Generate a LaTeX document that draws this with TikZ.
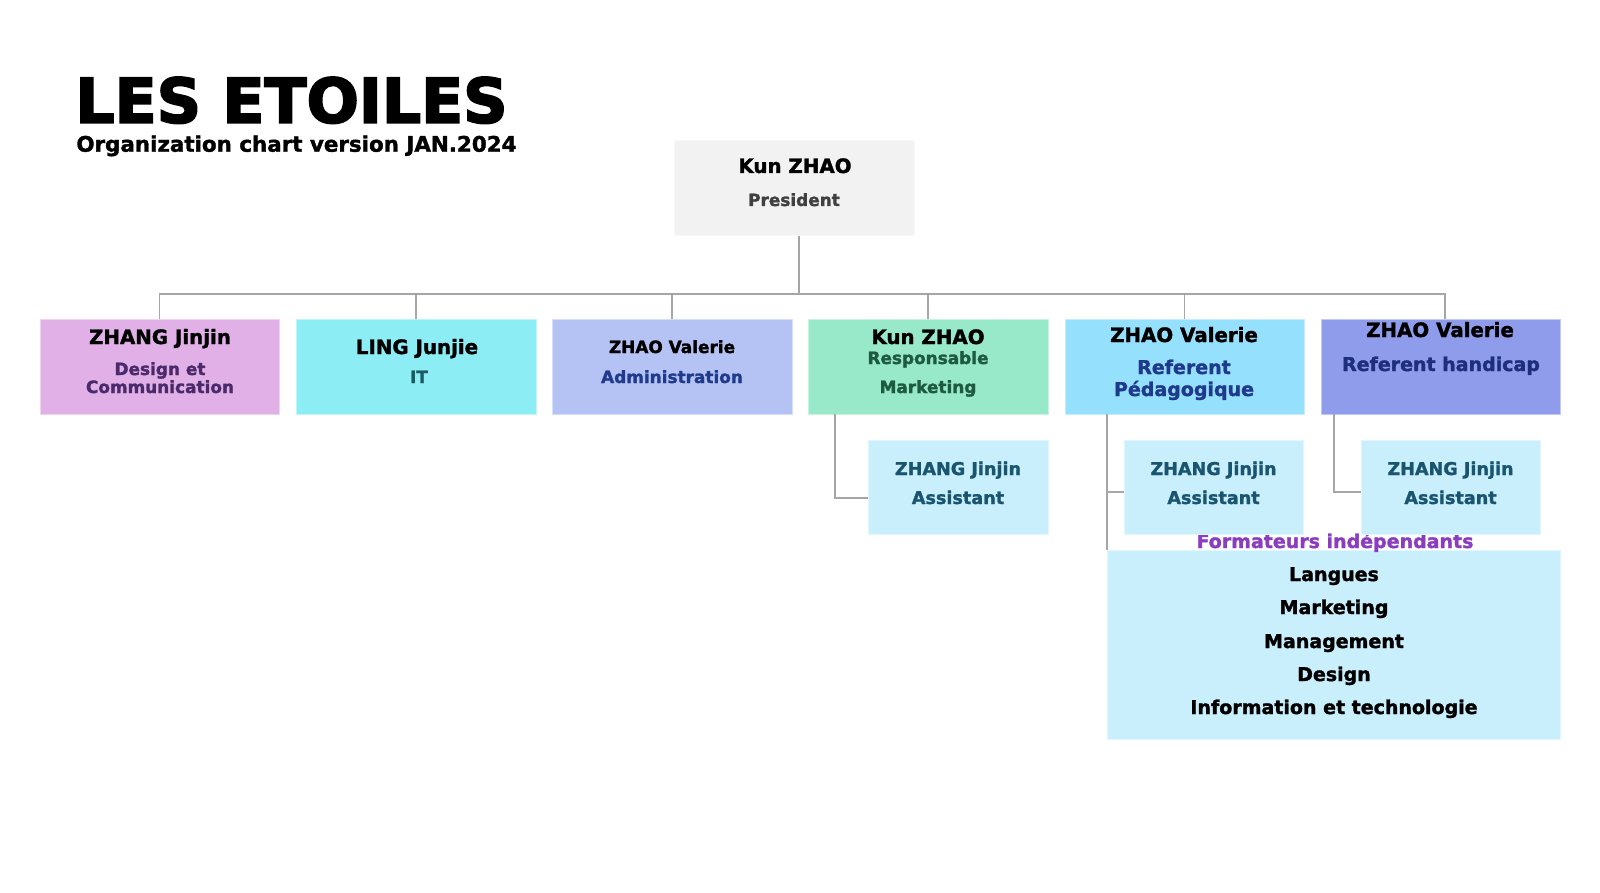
\documentclass[tikz,border=0pt]{standalone}
\usepackage{fontspec}
\setmainfont{DejaVu Sans}[BoldFeatures={FakeBold=1.6}]
\newfontfamily\heavyfont{DejaVu Sans Bold}[FakeBold=3]
\usetikzlibrary{calc}
\definecolor{cpres}{HTML}{F2F2F2}
\definecolor{cb1}{HTML}{E0B0E6}
\definecolor{cb2}{HTML}{8CEDF5}
\definecolor{cb3}{HTML}{B4C3F4}
\definecolor{cb4}{HTML}{97E9CA}
\definecolor{cb5}{HTML}{95E0FC}
\definecolor{cb6}{HTML}{8F9CEC}
\definecolor{cas}{HTML}{C9EFFD}
\definecolor{tb1}{HTML}{4A2A6A}
\definecolor{tb2}{HTML}{1A5A60}
\definecolor{tb3}{HTML}{203A8C}
\definecolor{tb4}{HTML}{1D5A3F}
\definecolor{tb5}{HTML}{1F3A8C}
\definecolor{tb6}{HTML}{1E2E7C}
\definecolor{tas}{HTML}{1A5570}
\definecolor{tpres}{HTML}{404040}
\definecolor{cform}{HTML}{8B3DBF}
\definecolor{cline}{HTML}{A6A6A6}
\newcommand\fTitle{\fontsize{30.8pt}{34pt}\selectfont\heavyfont}
\newcommand\fSub{\fontsize{10.7pt}{12pt}\selectfont\bfseries}
\newcommand\fBig{\fontsize{9.9pt}{11pt}\selectfont\bfseries}
\newcommand\fMid{\fontsize{9.5pt}{11pt}\selectfont\bfseries}
\newcommand\fSmall{\fontsize{8.45pt}{10pt}\selectfont\bfseries}
\newcommand\fAs{\fontsize{8.8pt}{10pt}\selectfont\bfseries}
\tikzset{
  orgbox/.style={rectangle, inner sep=0pt, minimum width=120pt, minimum height=47.5pt, draw=#1!55!white, line width=0.4pt, fill=#1},
  asbox/.style={orgbox=cas, minimum width=89.5pt, minimum height=47pt},
  txt/.style={anchor=base, inner sep=0pt},
  conn/.style={draw=cline, line width=0.9pt},
}
\begin{document}
\begin{tikzpicture}[x=0.5pt, y=-0.5pt]
\useasboundingbox (0,0) rectangle (1600,893);
\fill[white] (0,0) rectangle (1600,893);

% title
\node[anchor=base west, inner sep=0pt, font=\fTitle] (title) at (75,122.7) {LES ETOILES};
\node[anchor=base west, inner sep=0pt, font=\fSub] (subtitle) at (76,151.7) {Organization chart version JAN.2024};

% boxes
\node[orgbox=cpres] (pres) at (794,188) {};
\node[orgbox=cb1, minimum width=119.5pt] (b1) at (159.5,366.5) {};
\node[orgbox=cb2] (b2) at (416,366.5) {};
\node[orgbox=cb3] (b3) at (672,366.5) {};
\node[orgbox=cb4] (b4) at (928,366.5) {};
\node[orgbox=cb5, minimum width=119.5pt] (b5) at (1184.5,366.5) {};
\node[orgbox=cb6, minimum width=119.5pt] (b6) at (1440.5,366.5) {};

\node[orgbox=cas, minimum width=226.5pt, minimum height=94.5pt] (f) at (1333.5,644.5) {};
\node[txt, font=\fMid, text=cform] (flabel) at (1335,548) {Formateurs indépendants};

\node[asbox, minimum width=90pt] (a1) at (958,487) {};
\node[asbox] (a2) at (1213.5,487) {};
\node[asbox] (a3) at (1450.5,487) {};

% connectors
\coordinate (bus) at (800,294);
\draw[conn] ([xshift=2.5pt]pres.south) -- ([xshift=2.5pt]pres.south |- bus);
\draw[conn] (b1.north) -- (b1.north |- bus) -- ([xshift=2.25pt]b6.north |- bus) -- ([xshift=2.25pt]b6.north);
\draw[conn] (b2.north) -- (b2.north |- bus);
\draw[conn] (b3.north) -- (b3.north |- bus);
\draw[conn] (b4.north) -- (b4.north |- bus);
\draw[conn] (b5.north) -- (b5.north |- bus);
\draw[conn] ([xshift=13.5pt]b4.south west) |- ([yshift=-5.5pt]a1.west);
\draw[conn] (b5.south -| f.north west) -- (f.north west);
\draw[conn] ([yshift=-2.5pt]a2.west -| f.north west) -- ([yshift=-2.5pt]a2.west);
\draw[conn] ([xshift=6.5pt]b6.south west) |- ([yshift=-2.5pt]a3.west);

% texts
\node[txt, font=\fBig] (pn) at (795,173) {Kun ZHAO};
\node[txt, font=\fSmall, text=tpres] (pr) at (794,206) {President};

\node[txt, font=\fBig] (n1) at (160,344) {ZHANG Jinjin};
\node[txt, font=\fSmall, text=tb1] (r1a) at (160,375) {Design et};
\node[txt, font=\fSmall, text=tb1] (r1b) at (160,393) {Communication};

\node[txt, font=\fBig] (n2) at (417,354) {LING Junjie};
\node[txt, font=\fSmall, text=tb2] (r2) at (419,383) {IT};

\node[txt, font=\fSmall] (n3) at (672,353) {ZHAO Valerie};
\node[txt, font=\fSmall, text=tb3] (r3) at (672,383) {Administration};

\node[txt, font=\fBig] (n4) at (928,344) {Kun ZHAO};
\node[txt, font=\fSmall, text=tb4] (r4a) at (928,364) {Responsable};
\node[txt, font=\fSmall, text=tb4] (r4b) at (928,393) {Marketing};

\node[txt, font=\fBig] (n5) at (1184,342) {ZHAO Valerie};
\node[txt, font=\fMid, text=tb5] (r5a) at (1184,374) {Referent};
\node[txt, font=\fMid, text=tb5] (r5b) at (1184,396) {Pédagogique};

\node[txt, font=\fBig] (n6) at (1440,337) {ZHAO Valerie};
\node[txt, font=\fMid, text=tb6] (r6) at (1441,371) {Referent handicap};

\foreach \a in {a1,a2,a3}{
  \node[txt, font=\fAs, text=tas] (\a n) at ($(\a.center)+(0,-12)$) {ZHANG Jinjin};
  \node[txt, font=\fAs, text=tas] (\a r) at ($(\a.center)+(0,17)$) {Assistant};
}

\node[txt, font=\fMid] (i1) at (1334,581) {Langues};
\node[txt, font=\fMid] (i2) at (1334,614) {Marketing};
\node[txt, font=\fMid] (i3) at (1334,648) {Management};
\node[txt, font=\fMid] (i4) at (1334,681) {Design};
\node[txt, font=\fMid] (i5) at (1334,714) {Information et technologie};
\end{tikzpicture}
\end{document}
